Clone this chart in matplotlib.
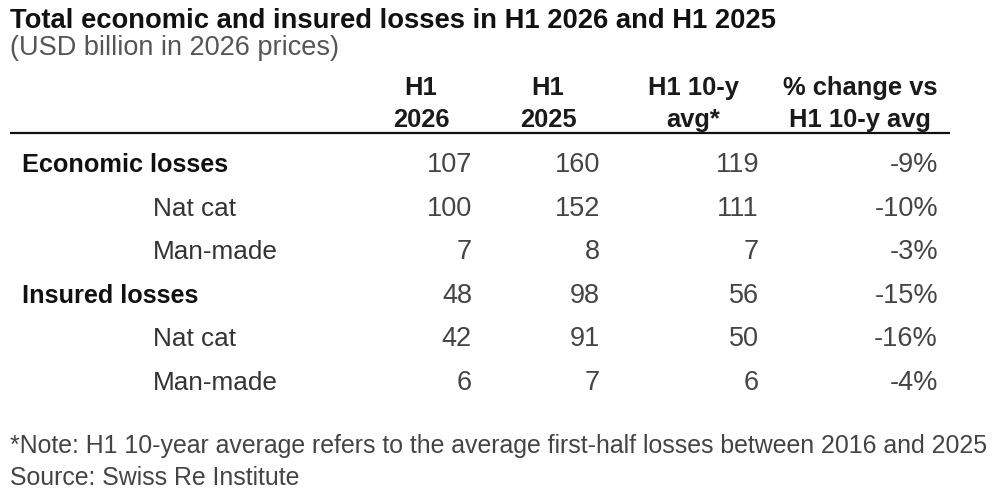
import matplotlib
matplotlib.use("Agg")
import matplotlib.pyplot as plt

plt.rcParams['font.family'] = ['Liberation Sans', 'DejaVu Sans']

title = "Total economic and insured losses in H1 2026 and H1 2025"
subtitle = "(USD billion in 2026 prices)"
headers = [["H1", "2026"], ["H1", "2025"], ["H1 10-y", "avg*"], ["% change vs", "H1 10-y avg"]]
row_labels = ["Economic losses", "Nat cat", "Man-made", "Insured losses", "Nat cat", "Man-made"]
row_is_total = [True, False, False, True, False, False]
h1_2026 = [107, 100, 7, 48, 42, 6]
h1_2025 = [160, 152, 8, 98, 91, 7]
avg_10y = [119, 111, 7, 56, 50, 6]
pct_change = [-9, -10, -3, -15, -16, -4]
footnote = "*Note: H1 10-year average refers to the average first-half losses between 2016 and 2025"
source = "Source: Swiss Re Institute"

W, H = 998, 500
fig = plt.figure(figsize=(W / 100, H / 100), dpi=100)
ax = fig.add_axes([0, 0, 1, 1])
ax.set_xlim(0, W)
ax.set_ylim(H, 0)
ax.axis('off')

ax.text(10, 28, title, fontsize=19.7, fontweight='bold', color='#111111', va='baseline', ha='left')
ax.text(10, 55, subtitle, fontsize=19.5, color='#555555', va='baseline', ha='left')

header_cx = [421, 548, 693, 860]
header_base = [95, 127]
for cx, hd in zip(header_cx, headers):
    for yb, t in zip(header_base, hd):
        ax.text(cx, yb, t, fontsize=18.4, fontweight='bold', color='#1a1a1a', ha='center', va='baseline')

ax.plot([10, 950], [133, 133], color='#111111', lw=1.6, solid_capstyle='butt')

col_right = [472, 600, 759, 938]
row_base0, row_pitch = 172, 43.6
for i, lab in enumerate(row_labels):
    yb = row_base0 + i * row_pitch
    if row_is_total[i]:
        ax.text(22, yb, lab, fontsize=18.2, fontweight='bold', color='#111111', ha='left', va='baseline')
    else:
        ax.text(153, yb, lab, fontsize=18.8, color='#333333', ha='left', va='baseline')
    vals = [str(h1_2026[i]), str(h1_2025[i]), str(avg_10y[i]), f"{pct_change[i]}%"]
    for xr, v in zip(col_right, vals):
        ax.text(xr, yb, v, fontsize=19.5, color='#444444', ha='right', va='baseline')

ax.text(10, 453, footnote, fontsize=17.9, color='#444444', ha='left', va='baseline')
ax.text(10, 485, source, fontsize=17.9, color='#444444', ha='left', va='baseline')

fig.savefig('out.png', dpi=100)
